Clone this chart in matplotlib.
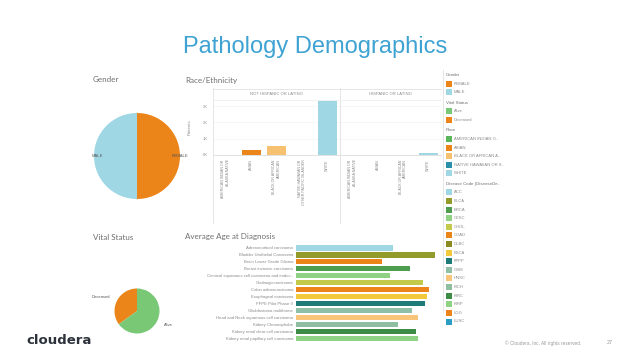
import matplotlib.pyplot as plt
from matplotlib.lines import Line2D

W, H = 638, 359

# ---- data ----
gender_labels = ["FEMALE", "MALE"]
gender_counts = [2480, 2480]

vital_labels = ["Deceased", "Alive"]
vital_counts = [35, 65]

race_nh_labels = ["AMERICAN INDIAN OR\nALASKA NATIVE", "ASIAN", "BLACK OR AFRICAN\nAMERICAN",
                  "NATIVE HAWAIIAN OR\nOTHER PACIFIC ISLANDER", "WHITE"]
race_nh_keys = ["AIAN", "ASIAN", "BLACK", "NHPI", "WHITE"]
race_nh_values = [10, 310, 560, 5, 3300]

race_h_labels = ["AMERICAN INDIAN OR\nALASKA NATIVE", "ASIAN", "BLACK OR AFRICAN\nAMERICAN", "WHITE"]
race_h_keys = ["AIAN", "ASIAN", "BLACK", "WHITE"]
race_h_values = [2, 3, 25, 150]

diseases = ["Adrenocortical carcinoma", "Bladder Urothelial Carcinoma", "Brain Lower Grade Glioma",
            "Breast invasive carcinoma", "Cervical squamous cell carcinoma and endoc..",
            "Cholangiocarcinoma", "Colon adenocarcinoma", "Esophageal carcinoma",
            "FFPE Pilot Phase II", "Glioblastoma multiforme", "Head and Neck squamous cell carcinoma",
            "Kidney Chromophobe", "Kidney renal clear cell carcinoma", "Kidney renal papillary cell carcinoma"]
disease_codes = ["ACC", "BLCA", "LGG", "BRCA", "CESC", "CHOL", "COAD", "ESCA",
                 "FPPP", "GBM", "HNSC", "KICH", "KIRC", "KIRP"]
avg_age = [47.5, 68, 42, 56, 46, 62, 65, 64, 63, 57, 60, 50, 59, 60]

legend_codes = ["ACC", "BLCA", "BRCA", "CESC", "CHOL", "COAD", "DLBC", "ESCA", "FPPP",
                "GBM", "HNSC", "KICH", "KIRC", "KIRP", "LGG", "LUSC"]

# ---- colours ----
ORANGE = "#ec8519"
LBLUE = "#9fd8e4"
GREEN = "#79c876"
race_colors = {"AIAN": "#5bb55a", "ASIAN": ORANGE, "BLACK": "#f6c272",
               "NHPI": "#2a8fa8", "WHITE": LBLUE}
code_colors = {"ACC": LBLUE, "BLCA": "#939c2a", "BRCA": "#4f9e4f", "CESC": "#8fd283",
               "CHOL": "#c3c94b", "COAD": ORANGE, "DLBC": "#8c8a22", "ESCA": "#f2c83c",
               "FPPP": "#1f7b77", "GBM": "#8fbfa6", "HNSC": "#f8c57a", "KICH": "#8fbea0",
               "KIRC": "#3c8c45", "KIRP": "#8fd283", "LGG": ORANGE, "LUSC": "#2b9cc4"}

plt.rcParams['font.family'] = ['Liberation Sans', 'DejaVu Sans']
TXT = "#8a8a8a"
HEAD = "#6f6f6f"

fig = plt.figure(figsize=(W / 100, H / 100), dpi=100)


def px_axes(x0, y0, x1, y1):
    return fig.add_axes([x0 / W, 1 - y1 / H, (x1 - x0) / W, (y1 - y0) / H])


def fx(x):
    return x / W


def fy(y):
    return 1 - y / H


def vline(x, y0, y1, color="#e2e2e2"):
    fig.add_artist(Line2D([fx(x), fx(x)], [fy(y0), fy(y1)], color=color, lw=0.6))


def hline(y, x0, x1, color="#e2e2e2"):
    fig.add_artist(Line2D([fx(x0), fx(x1)], [fy(y), fy(y)], color=color, lw=0.6))


# title
fig.text(fx(315), fy(46.5), "Pathology Demographics", color="#3ea3d3", fontsize=17,
         ha="center", va="center")

# section titles
for x, y, t in [(93, 80, "Gender"), (185, 80, "Race/Ethnicity"),
                (93, 237, "Vital Status"), (185, 237, "Average Age at Diagnosis")]:
    fig.text(fx(x), fy(y), t, color=HEAD, fontsize=5.8, ha="left", va="center", family="Lato")

# ---- gender pie ----
ax = px_axes(94, 113, 180, 199)
ax.pie(gender_counts, labels=gender_labels, colors=[ORANGE, LBLUE], startangle=90,
       counterclock=False, labeldistance=0.8, textprops=dict(fontsize=3, color="#555555"),
       wedgeprops=dict(linewidth=0))
ax.set_xlim(-1, 1)
ax.set_ylim(-1, 1)

# ---- vital status pie ----
ax = px_axes(114.5, 288.5, 159.5, 333.5)
ax.pie(vital_counts, labels=vital_labels, colors=[ORANGE, GREEN], startangle=90,
       counterclock=True, labeldistance=1.35, textprops=dict(fontsize=3, color="#555555"),
       wedgeprops=dict(linewidth=0))
ax.set_xlim(-1, 1)
ax.set_ylim(-1, 1)

# ---- race / ethnicity ----
ymax = 3380
panels = [(213, 340, race_nh_labels, race_nh_keys, race_nh_values, "NOT HISPANIC OR LATINO"),
          (340, 441, race_h_labels, race_h_keys, race_h_values, "HISPANIC OR LATINO")]
for i, (x0, x1, labels, keys, vals, head) in enumerate(panels):
    ax = px_axes(x0, 100, x1, 155)
    pos = range(len(vals))
    ax.bar(pos, vals, width=0.75, color=[race_colors[k] for k in keys])
    ax.set_xlim(-0.5, len(vals) - 0.5)
    ax.set_ylim(0, ymax)
    for s in ax.spines.values():
        s.set_visible(False)
    ax.set_xticks(list(pos), labels, rotation=90, fontsize=2.6, color=TXT)
    for t in ax.get_xticklabels():
        t.set_multialignment("right")
    ax.tick_params(axis="x", length=0, pad=3)
    ax.set_yticks([0, 1000, 2000, 3000])
    if i == 0:
        ax.set_yticklabels(["0K", "1K", "2K", "3K"], fontsize=3, color=TXT)
        ax.tick_params(axis="y", length=0, pad=4)
        ax.set_ylabel("Patients", fontsize=3.2, color=TXT, labelpad=8)
    else:
        ax.set_yticklabels([])
        ax.tick_params(axis="y", length=0)
    ax.grid(axis="y", color="#f3f3f3", lw=0.5)
    ax.set_axisbelow(True)
    fig.text(fx((x0 + x1) / 2), fy(94), head, fontsize=3, color=TXT, ha="center", va="center")

vline(213, 88, 223)
vline(340, 88, 223)
hline(88.5, 213, 441)
hline(100, 213, 441, color="#eeeeee")
hline(155, 213, 441, color="#dddddd")

# ---- average age at diagnosis ----
ax = px_axes(296, 244.5, 445, 341)
ax.barh(range(len(avg_age)), avg_age, height=0.72,
        color=[code_colors[c] for c in disease_codes])
ax.set_xlim(0, 73)
ax.set_ylim(13.3, -0.5)
ax.set_yticks(range(len(diseases)), diseases, fontsize=3.1, color=TXT)
ax.tick_params(axis="y", length=0, pad=2)
ax.set_xticks([])
for s in ax.spines.values():
    s.set_visible(False)

# ---- legend ----
legend_rows = [("head", "Gender", None), ("item", "FEMALE", ORANGE), ("item", "MALE", LBLUE),
               ("head", "Vital Status", None), ("item", "Alive", GREEN), ("item", "Deceased", ORANGE),
               ("head", "Race", None), ("item", "AMERICAN INDIAN O..", race_colors["AIAN"]),
               ("item", "ASIAN", race_colors["ASIAN"]), ("item", "BLACK OR AFRICAN A..", race_colors["BLACK"]),
               ("item", "NATIVE HAWAIIAN OR S..", race_colors["NHPI"]), ("item", "WHITE", race_colors["WHITE"]),
               ("head", "Disease Code (DiseaseDe..", None)]
legend_rows += [("item", c, code_colors[c]) for c in legend_codes]

lax = px_axes(444, 70, 540, 330)
lax.set_xlim(444, 540)
lax.set_ylim(330, 70)
lax.axis("off")
y = 75
prev = None
for kind, label, col in legend_rows:
    if prev is not None:
        y += 10.5 if kind == "head" else 8.6
    if kind == "head":
        lax.text(446, y, label, fontsize=3.2, color=HEAD, va="center", ha="left")
    else:
        lax.scatter([449], [y], marker="s", s=18, color=col, linewidths=0)
        lax.text(454, y, label, fontsize=3, color=TXT, va="center", ha="left")
    prev = kind
vline(442.5, 70, 312)

# ---- footer ----
fig.text(fx(26), fy(341), "cloudera", fontsize=9.5, fontweight="bold", color="#2c323b",
         ha="left", va="center", family="DejaVu Sans")
fig.text(fx(505), fy(343), "\u00a9 Cloudera, Inc. All rights reserved.", fontsize=3.4,
         color="#9a9a9a", ha="left", va="center")
fig.text(fx(607), fy(343), "27", fontsize=4, color="#9a9a9a", ha="left", va="center")

fig.savefig("out.png", dpi=100)
